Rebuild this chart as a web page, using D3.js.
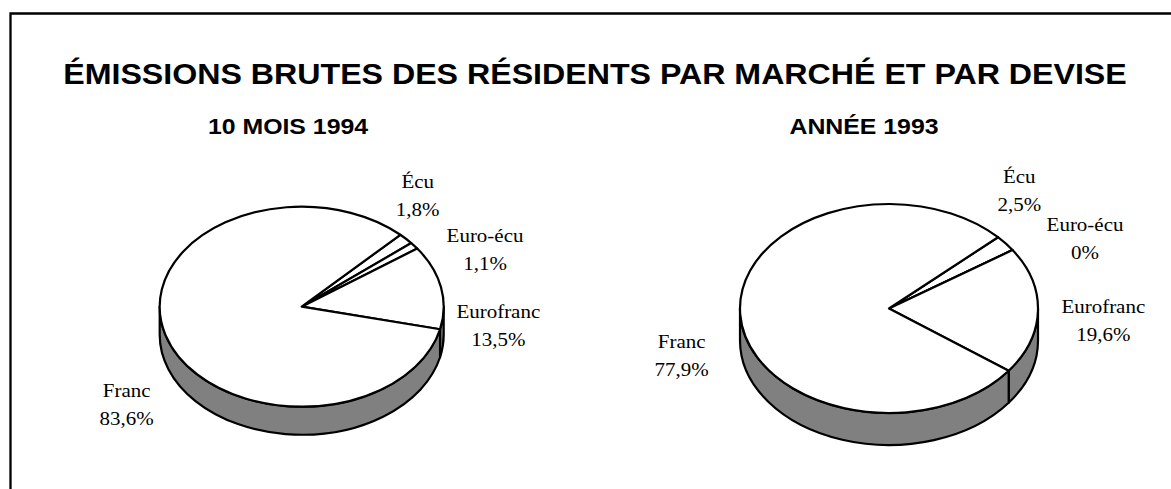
<!DOCTYPE html>
<html><head><meta charset="utf-8">
<script src="https://cdn.jsdelivr.net/npm/d3@7"></script>
<style>body{margin:0;background:#fff;overflow:hidden;}svg{display:block;}</style>
</head><body>
<svg id="chart" width="1171" height="489"></svg>
<script>
// ---- data ----
const categories = ["Écu", "Euro-écu", "Eurofranc", "Franc"];
const values1994 = [1.8, 1.1, 13.5, 83.6];
const values1993 = [2.5, 0, 19.6, 77.9];
const pieTitles = ["10 MOIS 1994", "ANNÉE 1993"];
const mainTitle = "ÉMISSIONS BRUTES DES RÉSIDENTS PAR MARCHÉ ET PAR DEVISE";

// ---- layout / style ----
const SX = 1.14; // horizontal stretch of the original text
const layout = [
  {cx: 301.7, cy: 306.7, rx: 142, ry: 100, depth: 28, start: 44, titleX: 288,
   labels: [[116, -118.4], [183.3, -65], [196.6, 11.6], [-175, 90.6]]},
  {cx: 889, cy: 308.5, rx: 149, ry: 104.5, depth: 32, start: 47, titleX: 864,
   labels: [[130.3, -125.2], [196, -77.5], [214.3, 4.2], [-207.3, 39.2]]}
];
const seriesList = [values1994, values1993];

const loc = d3.formatLocale({decimal: ",", thousands: " ", grouping: [3], currency: ["", "€"]});
const fmt = v => loc.format("~f")(v) + "%";

const svg = d3.select("#chart");

// frame (left and top edges visible; the rest lies outside the picture)
svg.append("path").attr("d", "M10.5,600V13.5H1180")
  .attr("fill", "none").attr("stroke", "#000").attr("stroke-width", 2.3);

function sText(x, y, txt, size, family, weight, sx) {
  return svg.append("text")
    .attr("transform", `translate(${x},${y}) scale(${sx || SX},1)`)
    .attr("text-anchor", "middle")
    .attr("font-family", family)
    .attr("font-size", size)
    .attr("font-weight", weight || "normal")
    .attr("fill", "#000")
    .text(txt);
}
const SANS = "'Liberation Sans', Arial, sans-serif";
const SERIF = "'Liberation Serif', 'Times New Roman', serif";

const t = sText(595, 83.5, mainTitle, 29, SANS, "bold", 1);
const tw = t.node().getComputedTextLength();
t.attr("transform", `translate(595,83.5) scale(${1064 / tw},1)`);

seriesList.forEach((vals, i) => {
  const L = layout[i];
  const a0 = L.start * Math.PI / 180;
  const arcs = d3.pie().sort(null).value(d => d)
    .startAngle(a0).endAngle(a0 + 2 * Math.PI)(vals);

  sText(L.titleX, 134, pieTitles[i], 21.8, SANS, "bold");

  const pt = (a, dy = 0) => [L.cx + L.rx * Math.sin(a), L.cy - L.ry * Math.cos(a) + dy];
  const g = svg.append("g");

  // side walls (front half only)
  const fronts = [[Math.PI / 2, 3 * Math.PI / 2], [5 * Math.PI / 2, 7 * Math.PI / 2]];
  arcs.forEach(d => {
    fronts.forEach(([fs, fe]) => {
      const s = Math.max(d.startAngle, fs), e = Math.min(d.endAngle, fe);
      if (e - s <= 1e-6) return;
      const p1 = pt(s), p2 = pt(e), p3 = pt(e, L.depth), p4 = pt(s, L.depth);
      const path = `M${p1}A${L.rx},${L.ry} 0 0 1 ${p2}L${p3}A${L.rx},${L.ry} 0 0 0 ${p4}Z`;
      g.append("path").attr("d", path).attr("fill", "#808080")
        .attr("stroke", "#000").attr("stroke-width", 2.2).attr("stroke-linejoin", "round");
    });
  });

  // top faces
  arcs.forEach(d => {
    const p1 = pt(d.startAngle), p2 = pt(d.endAngle);
    const large = (d.endAngle - d.startAngle) > Math.PI ? 1 : 0;
    const path = `M${L.cx},${L.cy}L${p1}A${L.rx},${L.ry} 0 ${large} 1 ${p2}Z`;
    g.append("path").attr("d", path).attr("fill", "#fff")
      .attr("stroke", "#000").attr("stroke-width", 2.2).attr("stroke-linejoin", "round");
  });

  // labels
  arcs.forEach((d, j) => {
    const [dx, dy] = L.labels[j];
    sText(L.cx + dx, L.cy + dy, categories[j], 18.4, SERIF);
    sText(L.cx + dx, L.cy + dy + 27.8, fmt(vals[j]), 18.4, SERIF);
  });
});
</script>
</body></html>
